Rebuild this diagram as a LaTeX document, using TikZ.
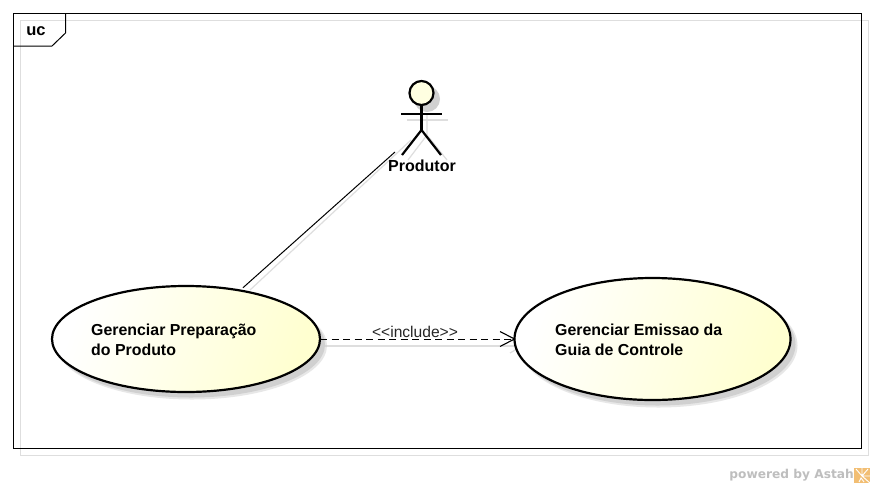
\documentclass[tikz,border=0pt]{standalone}
\usepackage{fontspec}
\setmainfont{Liberation Sans}
\newfontfamily\wmfont{DejaVu Sans}
\usetikzlibrary{shapes.geometric,arrows.meta}
\definecolor{ucfill}{RGB}{255,255,208}
\definecolor{actorfill}{RGB}{255,255,225}
\definecolor{shadowgray}{RGB}{208,208,208}
\definecolor{wmgray}{RGB}{190,190,190}
\definecolor{logoorange}{RGB}{242,190,115}
\tikzset{
  x=1pt,y=-1pt,
  usecase/.style={ellipse,draw=black,line width=2.2pt,left color=white,middle color=ucfill!70!white,right color=ucfill,shading angle=70,inner sep=0pt,outer sep=0pt},
  ucshadow/.style={ellipse,fill=shadowgray,inner sep=0pt,outer sep=0pt},
  uclabel/.style={align=left,anchor=west,inner sep=0pt,font=\fontsize{15.9}{20}\selectfont\bfseries},
  shadowline/.style={draw=shadowgray!70!white,line width=1.2pt},
  limb/.style={draw=black,line width=2.2pt},
  assoc/.style={draw=black,line width=1pt,shorten >=4pt},
  incl/.style={draw=black,line width=1pt,dash pattern=on 7pt off 4.5pt},
  stereotype/.style={font=\fontsize{15.6}{16}\selectfont,inner sep=0pt,text=black!85},
}
\begin{document}
\begin{tikzpicture}
\useasboundingbox (0,0) rectangle (874,488);
\fill[white] (0,0) rectangle (874,488);
% frame shadow
\draw[shadowline,line width=1pt] (20,20) rectangle (868,455);
% connector shadows
\draw[shadowline] (411,140) -- (250,290);
\draw[shadowline] (322,346) -- (522,346);
\draw[shadowline] (510,339) -- (522,346) -- (510,353);
% frame
\draw[black,line width=1pt] (13.5,13.5) rectangle (861,448);
\coordinate (tabA) at (13.5,46);
\coordinate (tabB) at (52,46);
\coordinate (tabC) at (65.5,33);
\coordinate (tabD) at (65.5,13.5);
\draw[black,line width=1pt] (tabA) -- (tabB) -- (tabC) -- (tabD);
\node[font=\fontsize{16.5}{18}\selectfont\bfseries,inner sep=0pt] (frametag) at (36,31.5) {uc};
% actor shadow
\fill[shadowgray] (427,99) circle (13);
\draw[shadowline] (407,120) -- (448,120);
\draw[shadowline] (427,115) -- (427,135) -- (408,160);
\draw[shadowline] (427,135) -- (447,160);
% ellipse shadows
\node[ucshadow,minimum width=270pt,minimum height=108pt,opacity=.5] (shA) at (192,345.5) {};
\node[ucshadow,minimum width=278pt,minimum height=124pt,opacity=.5] (shB) at (658.5,345.5) {};
\node[ucshadow,minimum width=268pt,minimum height=106pt] (shAi) at (191,344.5) {};
\node[ucshadow,minimum width=276pt,minimum height=122pt] (shBi) at (657.5,344.5) {};
% actor
\coordinate (hip) at (421.5,130);
\coordinate (armL) at (401,114);
\coordinate (armR) at (442,114);
\coordinate (footL) at (402,155);
\coordinate (footR) at (441,155);
\node[circle,draw=black,line width=2.2pt,fill=actorfill,minimum size=24pt,inner sep=0pt] (head) at (421.5,93) {};
\draw[limb] (head.south) -- (hip);
\draw[limb] (armL) -- (armR);
\draw[limb] (footL) -- (hip) -- (footR);
\node[font=\fontsize{16}{18}\selectfont\bfseries,inner sep=0pt] (actorlabel) at (422,166) {Produtor};
% use cases
\node[usecase,minimum width=268pt,minimum height=106pt] (ucA) at (186,339) {};
\node[usecase,minimum width=276pt,minimum height=122pt] (ucB) at (652.5,339) {};
\node[uclabel] (labA) at (91,339.5) {Gerenciar Preparação\\do Produto};
\node[uclabel] (labB) at (555,339.5) {Gerenciar Emissao da\\Guia de Controle};
% connectors
\coordinate (actorend) at (395,152);
\draw[assoc] (actorend) -- (ucA.42);
\draw[incl] (ucA.east) -- (ucB.west);
\draw[black,line width=1.1pt] (500,331.5) -- (ucB.west) -- (500,346.5);
\node[stereotype] (incllabel) at (415,331.5) {<{}<include>{}>};
% watermark
\node[font=\fontsize{12.2}{16}\selectfont\bfseries\wmfont,text=wmgray,anchor=east,inner sep=0pt] (wm) at (854,475.5) {powered by Astah};
\fill[logoorange] (854,468) rectangle (870,483);
\draw[white,line width=.9pt] (862,476) -- (862,468) (862,476) -- (856,469) (862,476) -- (868,469) (862,476) -- (870,476) (862,476) -- (870,483);
\draw[white,line width=.9pt] (859,482) -- (861,478) -- (864,482);
\end{tikzpicture}
\end{document}
